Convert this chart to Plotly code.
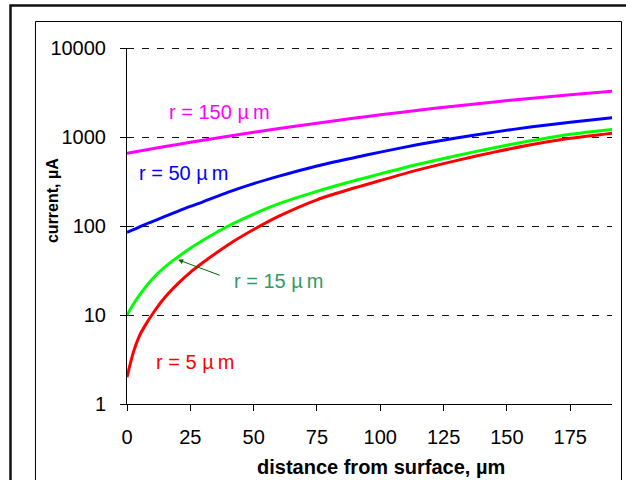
import plotly.graph_objects as go

# distance from surface (µm)
x_vals = [0, 2.5, 5, 7.5, 10, 15, 20, 25, 30, 40, 50, 60, 75, 90, 100, 115, 130, 145, 160, 175, 192]

# current (µA) for each electrode radius
i_r5 = [2.0, 3.8, 5.9, 7.9, 10.2, 15.8, 22.4, 30.2, 38.9, 61.7, 91.2, 129, 197, 269, 324, 427, 543, 676, 822, 966, 1109]
i_r15 = [10, 13.2, 16.8, 20.9, 25.4, 34.7, 44.7, 56.2, 69.2, 100, 136, 178, 245, 324, 385, 495, 617, 759, 912, 1072, 1219]
i_r50 = [85, 91, 97.7, 105, 112, 128, 146, 166, 187, 240, 299, 363, 473, 589, 676, 822, 977, 1135, 1303, 1462, 1652]

x_r150 = [0, 10, 20, 30, 40, 50, 60, 75, 90, 100, 115, 130, 145, 160, 175, 192]
i_r150 = [658, 738, 825, 919, 1020, 1128, 1243, 1430, 1632, 1775, 2000, 2235, 2477, 2729, 2980, 3266]

series = [
    ("r = 150 µm", x_r150, i_r150, "#FF00FF"),
    ("r = 50 µm", x_vals, i_r50, "#0000FF"),
    ("r = 15 µm", x_vals, i_r15, "#00FF00"),
    ("r = 5 µm", x_vals, i_r5, "#FF0000"),
]

y_tick_vals = [1, 10, 100, 1000, 10000]
y_tick_text = ["1", "10", "100", "1000", "10000"]
x_tick_vals = [0, 25, 50, 75, 100, 125, 150, 175]

FONT = "Liberation Sans, Arial, sans-serif"
GRID_COLOR = "#111111"
GRID_DASH = "7px,8px"

fig = go.Figure()
for name, xs, ys, col in series:
    fig.add_trace(go.Scatter(x=xs, y=ys, mode="lines", name=name,
                             line=dict(color=col, width=3, shape="spline", smoothing=0.8),
                             showlegend=False, hoverinfo="skip"))

fig.update_layout(
    width=626, height=480,
    margin=dict(l=127, r=14, t=48, b=76),
    paper_bgcolor="white", plot_bgcolor="white",
    font=dict(family=FONT, size=20, color="black"),
    xaxis=dict(range=[0, 191.5], tickvals=x_tick_vals, showgrid=False, zeroline=False,
               showline=True, linecolor="black", linewidth=1,
               ticks="outside", ticklen=6, tickcolor="black", tickwidth=1,
               ticklabelstandoff=9, tickfont=dict(size=20)),
    yaxis=dict(type="log", range=[0, 4], tickvals=y_tick_vals, ticktext=y_tick_text,
               showgrid=True, gridcolor=GRID_COLOR, gridwidth=1, griddash=GRID_DASH,
               zeroline=False, showline=True, linecolor="black", linewidth=1,
               ticks="outside", ticklen=6, tickcolor="black", tickwidth=1,
               ticklabelstandoff=10, tickfont=dict(size=20)),
)

shapes = [
    dict(type="rect", xref="paper", yref="paper", x0=-0.2402, x1=1.3, y0=-0.5, y1=1.1194,
         line=dict(color="#111111", width=2.5), fillcolor="rgba(0,0,0,0)", layer="below"),
    dict(type="rect", xref="paper", yref="paper", x0=-0.1887, x1=1.0196, y0=-0.5, y1=1.0744,
         line=dict(color="black", width=1), fillcolor="rgba(0,0,0,0)", layer="below"),
    # top gridline (10000), which plotly omits at the range edge
    dict(type="line", xref="paper", yref="paper", x0=0, x1=1, y0=0.9986, y1=0.9986,
         line=dict(color=GRID_COLOR, width=1, dash=GRID_DASH), layer="below"),
]
fig.update_layout(shapes=shapes)

annos = [
    dict(text="r = 150 µ\u2009m", x=15.8, y=3.28, color="#FF00FF"),
    dict(text="r = 50 µ\u2009m", x=3.8, y=2.596, color="#0000FF"),
    dict(text="r = 15 µ\u2009m", x=41.3, y=1.382, color="#339966"),
    dict(text="r = 5 µ\u2009m", x=10.5, y=0.472, color="#FF0000"),
]
for a in annos:
    fig.add_annotation(x=a["x"], y=a["y"], xref="x", yref="y", text=a["text"],
                       showarrow=False, xanchor="left", yanchor="middle",
                       font=dict(family=FONT, size=20, color=a["color"]))

# arrow pointing to the r = 15 µm curve
fig.add_annotation(x=20.2, y=1.62, xref="x", yref="y", text="", showarrow=True,
                   ax=43, ay=16, arrowhead=2, arrowsize=1, arrowwidth=1,
                   arrowcolor="#006600", standoff=0)

# axis titles
fig.add_annotation(x=-0.1546, y=0.5702, xref="paper", yref="paper",
                   text="<b>current, µA</b>", textangle=-90, showarrow=False,
                   xanchor="center", yanchor="middle",
                   font=dict(family=FONT, size=16, color="black"))
fig.add_annotation(x=0.5227, y=-0.1756, xref="paper", yref="paper",
                   text="<b>distance from surface, µm</b>", showarrow=False,
                   xanchor="center", yanchor="middle",
                   font=dict(family=FONT, size=20, color="black"))

fig.write_html("out.html", config={"displayModeBar": False},
               post_script="document.body.style.margin='0';document.body.style.padding='0';")
